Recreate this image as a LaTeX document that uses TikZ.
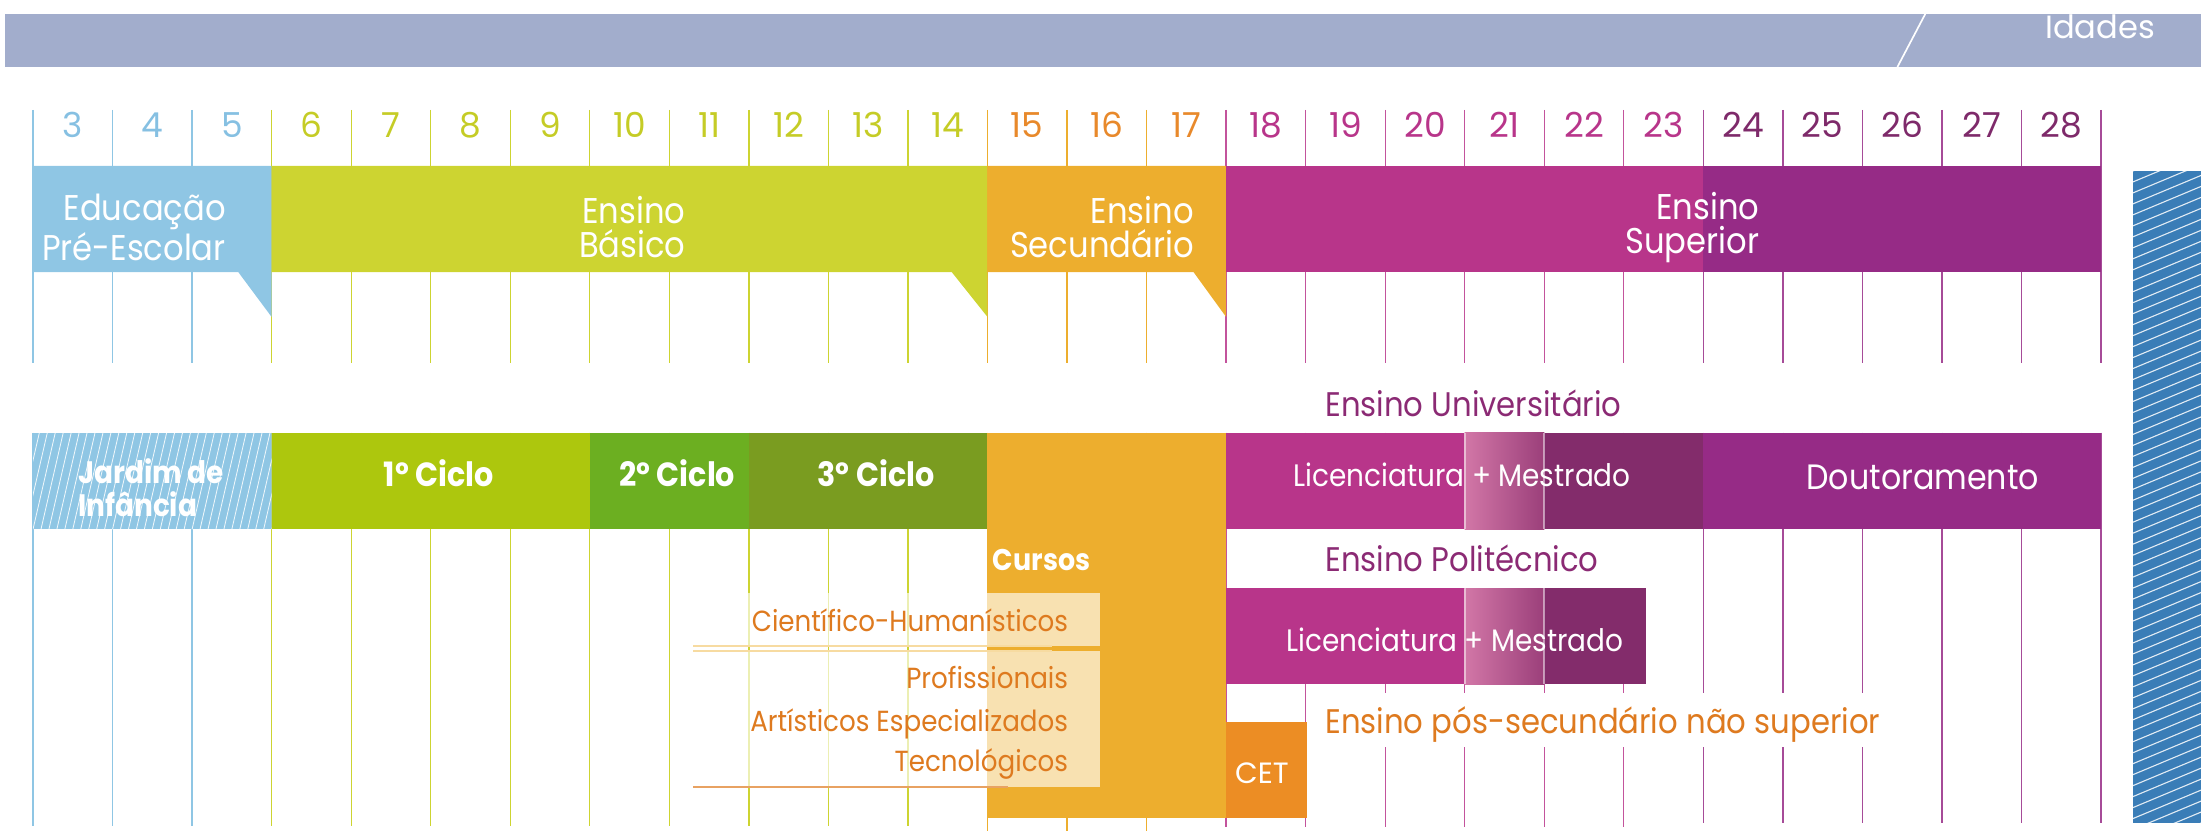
\documentclass[tikz,border=0pt]{standalone}
\usepackage{fontspec}
\setmainfont{Poppins}[FakeStretch=0.9]
\newfontfamily\widefont{Poppins}

\definecolor{band}{HTML}{A2ADCC}
\definecolor{preblue}{HTML}{8FC6E4}
\definecolor{basico}{HTML}{CDD431}
\definecolor{secund}{HTML}{EDAE2E}
\definecolor{superA}{HTML}{B8358A}
\definecolor{superB}{HTML}{962B86}
\definecolor{mestre}{HTML}{832C6B}
\definecolor{gradA}{HTML}{D277A7}
\definecolor{gradB}{HTML}{9B3F7A}
\definecolor{cicloA}{HTML}{ADC70D}
\definecolor{cicloB}{HTML}{6CAF21}
\definecolor{cicloC}{HTML}{7A9C20}
\definecolor{cet}{HTML}{EC8D24}
\definecolor{txtorange}{HTML}{DE7A1F}
\definecolor{txtpurple}{HTML}{8B2A74}
\definecolor{hatchblue}{HTML}{3A7DB7}
\definecolor{numblue}{HTML}{86C0E2}
\definecolor{numgreen}{HTML}{C5CC26}
\definecolor{numorange}{HTML}{E8892B}
\definecolor{numpink}{HTML}{B8358A}
\definecolor{numpurple}{HTML}{7E2A6A}

\begin{document}
\begin{tikzpicture}[
    num/.style={inner sep=0pt, font=\widefont\fontsize{12.3}{12.3}\selectfont},
    hdr/.style={text=white, inner sep=0pt, align=right, anchor=east, font=\fontsize{12.8}{12.2}\selectfont},
    ciclo/.style={text=white, inner sep=0pt, font=\bfseries\fontsize{12}{11.5}\selectfont},
    curso/.style={text=txtorange, inner sep=0pt, anchor=base east, font=\fontsize{10.4}{12}\selectfont},
    ramo/.style={text=txtpurple, inner sep=0pt, anchor=base west, font=\fontsize{12.2}{12}\selectfont},
    grau/.style={text=white, inner sep=0pt, anchor=base west, font=\fontsize{11.1}{12}\selectfont},
    grid/.style={line width=0.45pt}]

    \useasboundingbox (-0.415,0) rectangle (27.257,-10.448);

    % faixa das idades
    \fill[band] (-0.352,-0.176) rectangle (27.257,-0.842);
    \draw[white, line width=0.6pt] (23.79,-0.176) -- (23.44,-0.842);
    \node[text=white, inner sep=0pt, anchor=base, font=\widefont\fontsize{11.5}{12}\selectfont] (idades) at (25.99,-0.49) {Idades};

    % grelha
    \foreach \i in {0,1,2}
        \draw[grid, preblue] (\i,-1.383) -- (\i,-4.564) (\i,-5.44) -- (\i,-10.38);
    \foreach \i in {3,...,11}
        \draw[grid, basico] (\i,-1.383) -- (\i,-4.564) (\i,-5.44) -- (\i,-10.38);
    \foreach \i in {12,13,14}
        \draw[grid, secund] (\i,-1.383) -- (\i,-4.564) (\i,-5.44) -- (\i,-10.45);
    \foreach \i in {15,...,20}
        \draw[grid, superA!85] (\i,-1.383) -- (\i,-4.564) (\i,-5.44) -- (\i,-10.40);
    \foreach \i in {21,...,26}
        \draw[grid, superB!85] (\i,-1.383) -- (\i,-4.564) (\i,-5.44) -- (\i,-10.35);

    \node[num, numblue] (a3) at (0.5,-1.57) {3};
    \node[num, numblue] (a4) at (1.5,-1.57) {4};
    \node[num, numblue] (a5) at (2.5,-1.57) {5};
    \node[num, numgreen] (a6) at (3.5,-1.57) {6};
    \node[num, numgreen] (a7) at (4.5,-1.57) {7};
    \node[num, numgreen] (a8) at (5.5,-1.57) {8};
    \node[num, numgreen] (a9) at (6.5,-1.57) {9};
    \node[num, numgreen] (a10) at (7.5,-1.57) {10};
    \node[num, numgreen] (a11) at (8.5,-1.57) {11};
    \node[num, numgreen] (a12) at (9.5,-1.57) {12};
    \node[num, numgreen] (a13) at (10.5,-1.57) {13};
    \node[num, numgreen] (a14) at (11.5,-1.57) {14};
    \node[num, numorange] (a15) at (12.5,-1.57) {15};
    \node[num, numorange] (a16) at (13.5,-1.57) {16};
    \node[num, numorange] (a17) at (14.5,-1.57) {17};
    \node[num, numpink] (a18) at (15.5,-1.57) {18};
    \node[num, numpink] (a19) at (16.5,-1.57) {19};
    \node[num, numpink] (a20) at (17.5,-1.57) {20};
    \node[num, numpink] (a21) at (18.5,-1.57) {21};
    \node[num, numpink] (a22) at (19.5,-1.57) {22};
    \node[num, numpink] (a23) at (20.5,-1.57) {23};
    \node[num, numpurple] (a24) at (21.5,-1.57) {24};
    \node[num, numpurple] (a25) at (22.5,-1.57) {25};
    \node[num, numpurple] (a26) at (23.5,-1.57) {26};
    \node[num, numpurple] (a27) at (24.5,-1.57) {27};
    \node[num, numpurple] (a28) at (25.5,-1.57) {28};

    % niveis de ensino
    \fill[preblue] (0,-2.087) -- (3,-2.087) -- (3,-3.985) -- (2.58,-3.42) -- (0,-3.42) -- cycle;
    \fill[basico] (3,-2.087) -- (12,-2.087) -- (12,-3.985) -- (11.55,-3.42) -- (3,-3.42) -- cycle;
    \fill[secund] (12,-2.087) -- (15,-2.087) -- (15,-3.985) -- (14.59,-3.42) -- (12,-3.42) -- cycle;
    \fill[superA] (15,-2.087) rectangle (21,-3.42);
    \fill[superB] (21,-2.087) rectangle (26,-3.42);

    \node[hdr] (preescolar) at (2.43,-2.86) {Educação\\Pré-Escolar};
    \node[hdr] (basico) at (8.21,-2.86) {Ensino\\Básico};
    \node[hdr] (secundario) at (14.6,-2.86) {Ensino\\Secundário};
    \node[hdr] (superior) at (21.71,-2.86) {Ensino\\Superior};

    % tapar a grelha atras dos titulos
    \fill[white] (15.05,-6.655) rectangle (20.6,-7.396);
    \fill[white] (16.0,-8.71) rectangle (23.3,-9.39);

    % jardim de infancia
    \begin{scope}
        \clip (0,-5.44) rectangle (3,-6.655);
        \fill[preblue] (0,-5.44) rectangle (3,-6.655);
        \foreach \k in {-0.4,-0.3,...,3.1}
            \draw[white, opacity=0.85, line width=0.3pt] (\k,-6.655) -- ++(0.28,1.215);
    \end{scope}
    \node[ciclo, anchor=west, align=left, font=\bfseries\fontsize{11.1}{12}\selectfont] (jardim) at (0.56,-6.13) {Jardim de\\Infância};

    \fill[cicloA] (3,-5.44) rectangle (7,-6.655);
    \fill[cicloB] (7,-5.44) rectangle (9,-6.655);
    \fill[cicloC] (9,-5.44) rectangle (12,-6.655);
    \node[ciclo] (ciclo1) at (5.1,-5.95) {1º Ciclo};
    \node[ciclo] (ciclo2) at (8.1,-5.95) {2º Ciclo};
    \node[ciclo] (ciclo3) at (10.6,-5.95) {3º Ciclo};

    % secundario
    \fill[secund] (12,-5.44) rectangle (15,-10.284);
    \node[ciclo, anchor=east, font=\bfseries\fontsize{10.7}{12}\selectfont] (cursos) at (13.3,-7.04) {Cursos};
    \fill[white, opacity=0.63] (8.3,-7.455) rectangle (13.42,-8.12);
    \fill[white, opacity=0.63] (8.3,-8.185) rectangle (13.42,-9.894);
    \draw[secund!45, line width=0.5pt] (8.3,-8.12) -- (12.81,-8.12);
    \draw[secund!45, line width=0.5pt] (8.3,-8.185) -- (12.81,-8.185);
    \draw[txtorange!70, line width=0.5pt] (8.3,-9.894) -- (12.26,-9.894);

    \node[curso] (cientifico) at (13.02,-7.94) {Científico-Humanísticos};
    \node[curso] (profissionais) at (13.02,-8.655) {Profissionais};
    \node[curso] (artisticos) at (13.02,-9.2) {Artísticos Especializados};
    \node[curso] (tecnologicos) at (13.02,-9.70) {Tecnológicos};

    \fill[cet] (15,-9.073) rectangle (16.02,-10.284);
    \node[text=white, inner sep=0pt, font=\widefont\fontsize{10.5}{12}\selectfont] (cet) at (15.45,-9.72) {CET};

    % superior
    \fill[superA] (15,-5.44) rectangle (18,-6.655);
    \shade[left color=gradA, right color=gradB] (18,-5.44) rectangle (19,-6.655);
    \fill[mestre] (19,-5.44) rectangle (21,-6.655);
    \fill[superB] (21,-5.44) rectangle (26,-6.655);
    \draw[white, opacity=0.5, line width=0.6pt] (18,-5.44) -- (18,-6.655) (19,-5.44) -- (19,-6.655);

    \fill[superA] (15,-7.396) rectangle (18,-8.603);
    \shade[left color=gradA, right color=gradB] (18,-7.396) rectangle (19,-8.603);
    \fill[mestre] (19,-7.396) rectangle (20.28,-8.603);
    \draw[white, opacity=0.5, line width=0.6pt] (18,-7.396) -- (18,-8.603) (19,-7.396) -- (19,-8.603);

    \node[ramo] (universitario) at (16.24,-5.24) {Ensino Universitário};
    \node[grau] (lic1) at (15.84,-6.12) {Licenciatura + Mestrado};
    \node[grau, font=\fontsize{12.6}{12}\selectfont] (doutor) at (22.29,-6.16) {Doutoramento};
    \node[ramo] (politecnico) at (16.24,-7.19) {Ensino Politécnico};
    \node[grau] (lic2) at (15.75,-8.19) {Licenciatura + Mestrado};
    \node[ramo, text=txtorange] (possec) at (16.24,-9.22) {Ensino pós-secundário não superior};

    % faixa azul
    \begin{scope}
        \clip (26.4,-2.15) rectangle (27.26,-10.35);
        \fill[hatchblue] (26.4,-2.15) rectangle (27.26,-10.35);
        \foreach \k in {0,...,62}
            \draw[white, opacity=0.85, line width=0.4pt] (26.4,{-2.15-\k*0.138}) -- ++(0.9,0.376);
    \end{scope}
\end{tikzpicture}
\end{document}
